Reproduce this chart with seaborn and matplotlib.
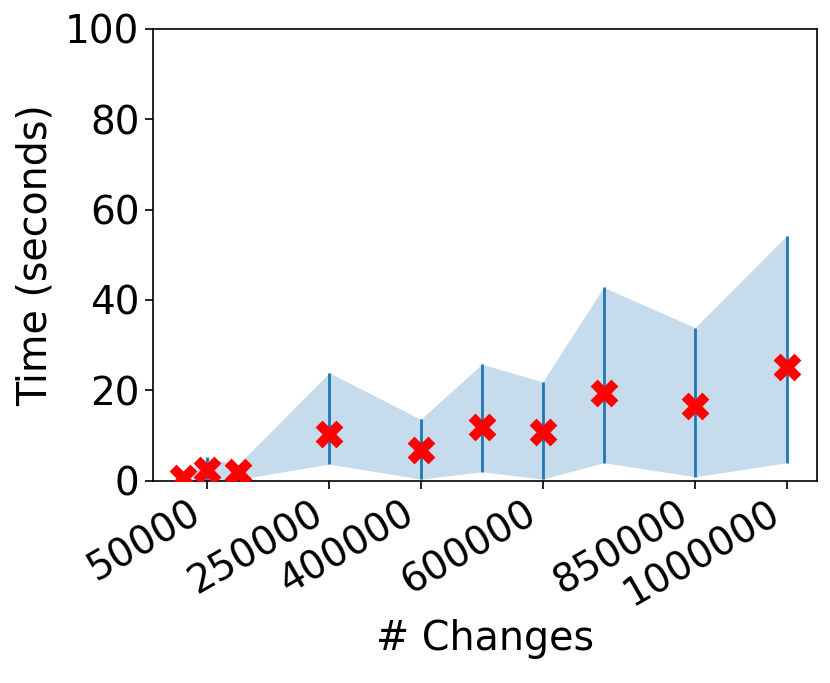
import numpy as np
import pandas as pd
import matplotlib
matplotlib.use("Agg")
import matplotlib.pyplot as plt
import seaborn as sns

# Datos
changes = [10000, 50000, 100000, 250000, 400000, 500000, 600000, 700000, 850000, 1000000]
time_mean = [0.6, 2.3, 2.0, 10.3, 6.8, 12.0, 10.8, 19.5, 16.6, 25.2]
time_max = [1.0, 5.2, 3.5, 23.9, 13.6, 25.8, 21.9, 42.8, 33.9, 54.2]
time_min = [0.0, 0.2, 0.3, 3.7, 0.4, 2.0, 0.4, 4.0, 0.9, 4.0]
xtick_values = [50000, 250000, 400000, 600000, 850000, 1000000]

df = pd.DataFrame({"changes": changes, "mean": time_mean, "max": time_max, "min": time_min})

sns.set_style("white")
plt.rcParams["font.family"] = ["DejaVu Sans"]
plt.rcParams["text.color"] = "black"
plt.rcParams["axes.labelcolor"] = "black"
plt.rcParams["xtick.color"] = "black"
plt.rcParams["ytick.color"] = "black"

fig, ax = plt.subplots(figsize=(8.3, 6.83), dpi=100)
fig.subplots_adjust(left=0.184, right=0.984, top=0.958, bottom=0.296)

# Banda min-max y lineas verticales
ax.fill_between(df["changes"], df["min"], df["max"], color="#1f77b4", alpha=0.25, linewidth=0)
ax.vlines(df["changes"], df["min"], df["max"], color="#1f77b4", linewidth=2)
sns.scatterplot(data=df, x="changes", y="mean", marker="X", color="red", s=400,
                linewidth=0, ax=ax, zorder=3)

ax.set_ylim(0, 100)
ax.set_xticks(xtick_values)
ax.set_xticklabels([str(v) for v in xtick_values], rotation=30, ha="right")
ax.tick_params(labelsize=28, length=6, width=1.2, direction="out", bottom=True, left=True,
               colors="black")
ax.set_xlabel("# Changes", fontsize=28.5, color="black")
ax.set_ylabel("Time (seconds)", fontsize=28.5, color="black", labelpad=7)
for s in ax.spines.values():
    s.set_color("black")
    s.set_linewidth(1.2)

plt.savefig("out.png", dpi=100)
plt.close()
